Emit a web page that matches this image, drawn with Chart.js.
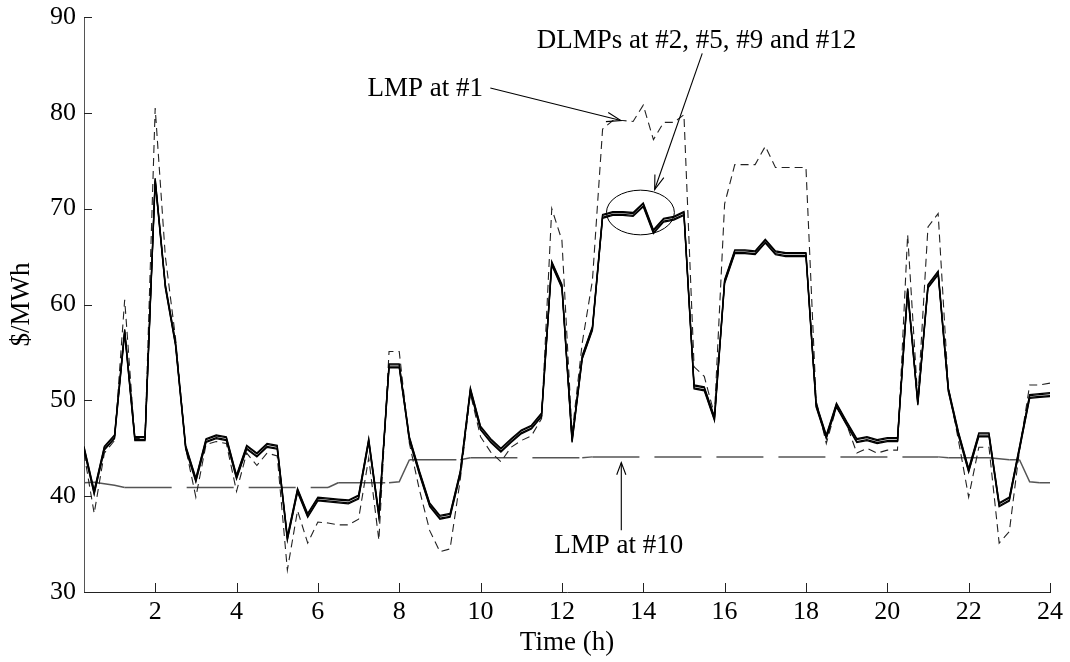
<!DOCTYPE html>
<html><head><meta charset="utf-8">
<script src="https://cdn.jsdelivr.net/npm/chart.js@4.4.0/dist/chart.umd.min.js"></script>
<style>html,body{margin:0;padding:0;background:#fff;}#wrap{width:1070px;height:662px;}</style>
</head><body><div id="wrap"><canvas id="c" width="1070" height="662"></canvas></div>
<script>
const hours = [
0.25,0.5,0.75,1,1.25,1.5,1.75,2,2.25,2.5,2.75,3,
3.25,3.5,3.75,4,4.25,4.5,4.75,5,5.25,5.5,5.75,6,
6.25,6.5,6.75,7,7.25,7.5,7.75,8,8.25,8.5,8.75,9,
9.25,9.5,9.75,10,10.25,10.5,10.75,11,11.25,11.5,11.75,12,
12.25,12.5,12.75,13,13.25,13.5,13.75,14,14.25,14.5,14.75,15,
15.25,15.5,15.75,16,16.25,16.5,16.75,17,17.25,17.5,17.75,18,
18.25,18.5,18.75,19,19.25,19.5,19.75,20,20.25,20.5,20.75,21,
21.25,21.5,21.75,22,22.25,22.5,22.75,23,23.25,23.5,23.75,24];

const dlmp2 = [
45.2,40.6,45.2,46.4,57.4,46.2,46.2,73.2,62.1,56.1,45.3,41.9,
46.0,46.4,46.2,42.2,45.3,44.5,45.5,45.3,35.8,40.8,38.2,39.9,
39.8,39.7,39.6,40.1,46.0,38.2,53.8,53.8,46.2,42.6,39.3,38.0,
38.2,42.6,51.3,47.3,46.0,45.0,46.0,46.9,47.4,48.7,64.5,62.1,
46.0,54.7,57.7,69.4,69.7,69.7,69.6,70.6,67.8,69.0,69.2,69.7,
51.6,51.4,48.3,62.6,65.7,65.7,65.6,66.8,65.6,65.4,65.4,65.4,
49.7,46.4,49.7,47.8,46.0,46.2,45.9,46.1,46.1,61.7,49.9,62.1,
63.5,51.3,46.7,42.9,46.6,46.6,39.3,39.9,45.2,50.6,50.7,50.8];

const dlmp5 = [
45.1,40.5,45.1,46.3,57.3,46.1,46.1,73.1,62.0,56.0,45.2,41.8,
45.9,46.3,46.1,42.1,45.2,44.4,45.4,45.2,35.7,40.7,38.1,39.8,
39.7,39.6,39.5,40.0,45.9,38.1,53.7,53.7,46.1,42.5,39.2,37.9,
38.1,42.5,51.2,47.2,45.9,44.9,45.9,46.8,47.3,48.6,64.4,62.0,
45.9,54.6,57.6,69.3,69.6,69.6,69.5,70.5,67.7,68.9,69.1,69.6,
51.5,51.3,48.2,62.5,65.6,65.6,65.5,66.7,65.5,65.3,65.3,65.3,
49.6,46.3,49.6,47.7,45.9,46.1,45.8,46.0,46.0,61.6,49.8,62.0,
63.4,51.2,46.6,42.8,46.5,46.5,39.2,39.8,45.1,50.5,50.6,50.7];

const dlmp9 = [
44.9,40.3,44.9,46.1,57.1,45.9,45.9,72.9,61.8,55.8,45.0,41.6,
45.7,46.1,45.9,41.9,45.0,44.2,45.2,45.0,35.5,40.5,37.9,39.6,
39.5,39.4,39.3,39.8,45.7,37.9,53.5,53.5,45.9,42.3,39.0,37.7,
37.9,42.3,51.0,47.0,45.7,44.7,45.7,46.6,47.1,48.4,64.2,61.8,
45.7,54.4,57.4,69.1,69.4,69.4,69.3,70.3,67.5,68.7,68.9,69.4,
51.3,51.1,48.0,62.3,65.4,65.4,65.3,66.5,65.3,65.1,65.1,65.1,
49.4,46.1,49.4,47.5,45.7,45.9,45.6,45.8,45.8,61.4,49.6,61.8,
63.2,51.0,46.4,42.6,46.3,46.3,39.0,39.6,44.9,50.3,50.4,50.5];

const dlmp12 = [
44.8,40.2,44.8,46.0,57.0,45.8,45.8,72.8,61.7,55.7,44.9,41.5,
45.6,46.0,45.8,41.8,44.9,44.1,45.1,44.9,35.4,40.4,37.8,39.5,
39.4,39.3,39.2,39.7,45.6,37.8,53.4,53.4,45.8,42.2,38.9,37.6,
37.8,42.2,50.9,46.9,45.6,44.6,45.6,46.5,47.0,48.3,64.1,61.7,
45.6,54.3,57.3,69.0,69.3,69.3,69.2,70.2,67.4,68.6,68.8,69.3,
51.2,51.0,47.9,62.2,65.3,65.3,65.2,66.4,65.2,65.0,65.0,65.0,
49.3,46.0,49.3,47.4,45.6,45.8,45.5,45.7,45.7,61.3,49.5,61.7,
63.1,50.9,46.3,42.5,46.2,46.2,38.9,39.5,44.8,50.2,50.3,50.4];

const lmp1 = [
44.5,38.2,44.5,45.8,60.5,46.0,46.0,80.5,65.0,56.5,45.0,39.9,
45.4,45.7,45.5,40.5,44.5,43.2,44.5,44.2,32.3,38.5,35.1,37.3,
37.2,37.0,37.0,37.6,44.0,35.4,55.1,55.1,45.5,40.6,36.4,34.2,
34.5,41.7,50.7,46.2,44.6,43.6,45.1,45.8,46.3,48.1,70.0,66.7,
46.5,56.0,62.5,78.3,79.2,79.2,79.1,80.8,77.2,79.0,79.0,79.8,
53.5,52.5,48.5,70.5,74.6,74.6,74.6,76.5,74.3,74.3,74.3,74.3,
50.0,45.5,49.3,47.5,44.5,45.0,44.5,44.8,44.8,67.3,50.0,68.1,
69.5,51.4,45.8,39.9,45.1,45.1,35.1,36.3,44.8,51.6,51.6,51.8];

const lmp10 = [
41.4,41.45,41.3,41.15,40.9,40.9,40.9,40.9,40.9,40.9,40.9,40.9,
40.9,40.9,40.9,40.9,40.9,40.9,40.9,40.9,40.9,40.9,40.9,40.9,
40.9,41.4,41.4,41.4,41.4,41.4,41.4,41.5,43.8,43.8,43.8,43.8,
43.8,43.8,44.0,44.0,44.0,44.0,44.0,44.0,44.0,44.0,44.0,44.0,
44.0,44.0,44.1,44.1,44.1,44.1,44.1,44.1,44.1,44.1,44.1,44.1,
44.1,44.1,44.1,44.1,44.1,44.1,44.1,44.1,44.1,44.1,44.1,44.1,
44.1,44.1,44.1,44.1,44.1,44.1,44.1,44.1,44.1,44.1,44.1,44.1,
44.1,44.0,44.0,44.0,44.0,44.0,43.9,43.8,43.8,41.5,41.4,41.4];

const yTicks = [30,40,50,60,70,80,90];
const xTicks = [2,4,6,8,10,12,14,16,18,20,22,24];

const xTitle = 'Time (h)';
const yTitle = '$/MWh';

// annotation anchors in data units (hours, $/MWh)
const notes = {
  lmp1Text:  {t:10.06, v:82.5, text:'LMP at #1'},
  lmp1Arrow: {t0:10.24, v0:82.6, t1:13.45, v1:79.2},
  dlmpText:  {t:15.31, v:87.5, text:'DLMPs at #2, #5, #9 and #12'},
  dlmpArrow: {t0:15.45, v0:86.2, t1:14.28, v1:72.0},
  ellipse:   {t:13.93, v:69.6, rt:0.835, rv:2.33},
  lmp10Text: {t:11.81, v:34.8, text:'LMP at #10'},
  lmp10Arrow:{t0:13.46, v0:36.45, t1:13.46, v1:43.5}
};

const FONT = '"Liberation Serif", "Times New Roman", serif';
Chart.defaults.font.family = FONT;

function pts(arr){ return hours.map((h,i)=>({x:h, y:arr[i]})); }

function arrow(ctx, x0, y0, x1, y1, len, ang){
  ctx.beginPath(); ctx.moveTo(x0,y0); ctx.lineTo(x1,y1); ctx.stroke();
  const a = Math.atan2(y1-y0, x1-x0);
  ctx.beginPath();
  ctx.moveTo(x1 - len*Math.cos(a-ang), y1 - len*Math.sin(a-ang));
  ctx.lineTo(x1, y1);
  ctx.lineTo(x1 - len*Math.cos(a+ang), y1 - len*Math.sin(a+ang));
  ctx.stroke();
}

const decor = {
  id:'decor',
  afterDraw(chart){
    const {ctx, chartArea, scales:{x, y}} = chart;
    const X = t => x.getPixelForValue(t), Y = v => y.getPixelForValue(v);
    ctx.save();
    // inward tick marks
    ctx.strokeStyle = '#222'; ctx.lineWidth = 1;
    yTicks.forEach(v => {
      const py = Math.round(Y(v)) + 0.5;
      ctx.beginPath(); ctx.moveTo(chartArea.left, py); ctx.lineTo(chartArea.left + 8, py); ctx.stroke();
    });
    xTicks.forEach(t => {
      const px = Math.round(X(t)) + 0.5;
      ctx.beginPath(); ctx.moveTo(px, chartArea.bottom); ctx.lineTo(px, chartArea.bottom - 9); ctx.stroke();
    });
    // annotations
    ctx.fillStyle = '#000'; ctx.strokeStyle = '#000'; ctx.lineWidth = 1.1;
    ctx.font = '27px ' + FONT; ctx.textBaseline = 'middle';
    ctx.textAlign = 'right';
    ctx.fillText(notes.lmp1Text.text, X(notes.lmp1Text.t), Y(notes.lmp1Text.v));
    ctx.textAlign = 'center';
    ctx.fillText(notes.dlmpText.text, X(notes.dlmpText.t), Y(notes.dlmpText.v));
    ctx.textAlign = 'left';
    ctx.fillText(notes.lmp10Text.text, X(notes.lmp10Text.t), Y(notes.lmp10Text.v));
    const A = notes.lmp1Arrow, B = notes.dlmpArrow, C = notes.lmp10Arrow;
    arrow(ctx, X(A.t0), Y(A.v0), X(A.t1), Y(A.v1), 15, 0.32);
    arrow(ctx, X(B.t0), Y(B.v0), X(B.t1), Y(B.v1), 15, 0.32);
    arrow(ctx, X(C.t0), Y(C.v0), X(C.t1), Y(C.v1), 13, 0.36);
    const E = notes.ellipse;
    const cx = X(E.t), cy = Y(E.v);
    const rx = Math.abs(X(E.t + E.rt) - cx), ry = Math.abs(Y(E.v + E.rv) - cy);
    ctx.lineWidth = 1;
    ctx.beginPath(); ctx.ellipse(cx, cy, rx, ry, 0, 0, Math.PI*2); ctx.stroke();
    ctx.restore();
  }
};

const bundle = (label, arr) => ({label, data: pts(arr), borderColor:'#000', borderWidth:1.3,
  pointRadius:0, tension:0, fill:false});

new Chart(document.getElementById('c'), {
  type:'line',
  data:{datasets:[
    bundle('DLMP #2', dlmp2),
    bundle('DLMP #5', dlmp5),
    bundle('DLMP #9', dlmp9),
    bundle('DLMP #12', dlmp12),
    {label:'LMP #1', data: pts(lmp1), borderColor:'#222', borderWidth:1.1, borderDash:[8,5],
      pointRadius:0, tension:0, fill:false},
    {label:'LMP #10', data: pts(lmp10), borderColor:'#555', borderWidth:1.5,
      pointRadius:0, tension:0, fill:false,
      segment:{borderDash: c => (c.p0.parsed.y === c.p1.parsed.y ? [47,15] : [])}}
  ]},
  options:{
    responsive:false, animation:false, events:[],
    layout:{padding:{top:17, right:20, left:0, bottom:0}},
    plugins:{legend:{display:false}, tooltip:{enabled:false}},
    scales:{
      x:{type:'linear', min:0.25, max:24, offset:false,
        afterBuildTicks: s => { s.ticks = xTicks.map(v => ({value:v})); },
        afterFit: s => { s.height = 70; s.paddingLeft = 0; s.paddingRight = 0; },
        ticks:{font:{family:FONT, size:26}, color:'#000', padding:5, maxRotation:0, autoSkip:false},
        grid:{display:true, drawOnChartArea:false, drawTicks:false},
        border:{display:true, color:'#222', width:1},
        title:{display:true, text:xTitle, color:'#000', font:{family:FONT, size:27}, padding:{top:0, bottom:3}}
      },
      y:{min:30, max:90,
        afterBuildTicks: s => { s.ticks = yTicks.map(v => ({value:v})); },
        afterFit: s => { s.width = 84; s.paddingTop = 0; s.paddingBottom = 0; },
        ticks:{font:{family:FONT, size:26}, color:'#000', padding:8},
        grid:{display:true, drawOnChartArea:false, drawTicks:false},
        border:{display:true, color:'#555', width:1},
        title:{display:true, text:yTitle, color:'#000', font:{family:FONT, size:27}, padding:{top:6, bottom:0}}
      }
    }
  },
  plugins:[decor]
});
</script>
</body></html>
